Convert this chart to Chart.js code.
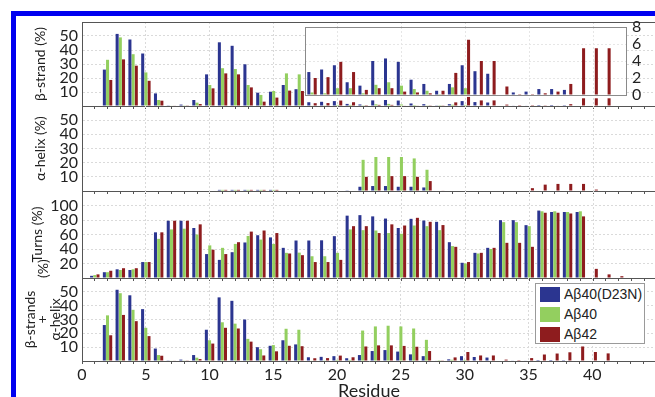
<!DOCTYPE html>
<html>
<head>
<meta charset="utf-8">
<script src="https://cdn.jsdelivr.net/npm/chart.js@4.4.1/dist/chart.umd.min.js"></script>
<style>
  body { margin: 0; width: 655px; height: 397px; overflow: hidden; background: #fff; position: relative; }
  canvas { position: absolute; left: 0; }
  .frame { position: absolute; background: #0000f0; z-index: 5; }
  #legend { position: absolute; left: 535px; top: 283px; width: 108px; height: 59px; border: 1px solid #9a9a9a; background: #fff;
            font-family: "Liberation Sans", Arial, sans-serif; font-size: 14px; color: #222; z-index: 4; }
  #legend div { height: 20px; display: flex; align-items: center; }
  #legend span.sw { display: inline-block; width: 20px; height: 15px; margin: 0 4px 0 4px; }
</style>
</head>
<body>
<div class="frame" style="left:11px;top:11px;width:5px;height:386px"></div>
<div class="frame" style="left:11px;top:11px;width:644px;height:5px"></div>

<canvas id="strand_chart" width="657" height="116" style="top:6px"></canvas>
<canvas id="helix_chart" width="657" height="117" style="top:90px"></canvas>
<canvas id="turns_chart" width="657" height="119" style="top:175px"></canvas>
<canvas id="sum_chart" width="657" height="145" style="top:252px"></canvas>
<canvas id="inset_chart" width="341" height="100" style="left:305px;top:11px"></canvas>
<div id="legend"></div>

<script>
let residues = [1, 2, 3, 4, 5, 6, 7, 8, 9, 10, 11, 12, 13, 14, 15, 16, 17, 18, 19, 20, 21,
    22, 23, 24, 25, 26, 27, 28, 29, 30, 31, 32, 33, 34, 35, 36, 37, 38, 39, 40, 41, 42]
let x_ticks = [0, 5, 10, 15, 20, 25, 30, 35, 40]
let series_names = ['A\u03b240(D23N)', 'A\u03b240', 'A\u03b242']
let series_colors = ['#2b3590', '#93cf5f', '#8e1c1e']

// beta-strand (%)
let strand_d23n = [0, 26, 51.5, 47.5, 37.5, 9, 0.5, 1, 4.3, 22.6, 45.5, 43, 29.8, 9.5, 10.2, 15, 12, 2.7, 3, 3.5,
    1.5, 1.1, 4, 4.3, 3.9, 1.8, 1.3, 0.5, 1.3, 3.5, 2.8, 2.5, 0, 0.3, 0.4, 0.7, 0.7, 0.6, 0, 0]
let strand_ab40 = [0, 33, 49, 37, 24, 4.3, 0.3, 0.5, 2.4, 15, 27, 26.4, 15, 7.9, 10.7, 23.3, 22.6, 0.3, 0.2, 0.8,
    0.8, 0.2, 1.2, 1.5, 1.1, 0.7, 0.5, 0.1, 0.9, 0.8, 0, 0, 0, 0, 0, 0, 0, 0, 0, 0]
let strand_ab42 = [0, 18.6, 33.3, 28.8, 18, 3.8, 0.3, 0.5, 1.4, 12.6, 23.3, 22.6, 13.3, 3.1, 6, 11, 10.7, 2, 2.1, 3.9,
    2.7, 0.6, 0.8, 0.8, 0.4, 0.3, 0.2, 0.5, 2.6, 6.5, 4, 4, 1, 0.1, 0.1, 0.2, 0.4, 1.3, 5.5, 5.5, 5.5, 0]

// alpha-helix (%)
let helix_d23n = [0, 0, 0, 0, 0, 0, 0, 0, 0, 0, 0.8, 0.8, 0.8, 0.8, 0.8, 0, 0, 0, 0, 0,
    0.5, 3, 3.5, 3.5, 3, 3, 2.5, 0, 0, 0, 0, 0, 0, 0, 0, 0, 0, 0, 0, 0]
let helix_ab40 = [0, 0, 0, 0, 0, 0, 0, 0, 0, 0, 0.8, 0.8, 0.8, 0.8, 0.8, 0, 0, 0, 0, 0,
    0, 22, 24, 24, 24, 23, 15, 0, 0, 0, 0, 0, 0, 0, 0, 0, 0, 0, 0, 0]
let helix_ab42 = [0, 0, 0, 0, 0, 0, 0, 0, 0, 0, 0.8, 0.8, 0.8, 0.8, 0.8, 0, 0, 0, 0, 0,
    0, 10, 10.5, 10.5, 10.5, 10, 7, 0.3, 0, 0, 0, 0, 0, 0, 2, 4.5, 5, 5, 5, 1, 0, 0]

// turns (%)
let turns_d23n = [3, 8, 12, 11, 22, 63, 79, 79, 69, 33, 25, 35.6, 49, 59, 56, 41.6, 51.7, 51.7, 52, 57.7,
    86, 86.7, 85, 82, 69, 81.6, 79.3, 77.5, 49.4, 21, 34.7, 41.6, 79.8, 79.8, 72.9, 93, 91, 91, 91, 0]
let turns_ab40 = [4, 8, 11, 12, 22, 54, 67, 68, 60, 45, 41.6, 47, 58, 53, 47, 34.7, 35, 30, 30, 34.7,
    67, 66, 65.5, 62, 61, 72.4, 71.5, 66, 44, 20, 33.8, 40, 77, 77, 71.5, 92, 92, 91, 92, 0]
let turns_ab42 = [5, 10, 13.5, 13.5, 22, 63, 79, 79, 74, 39, 33, 49.4, 64, 65.5, 62, 33.8, 31.5, 22, 22, 25,
    71.5, 71.5, 62, 74, 72.4, 83, 77.5, 73, 43, 22, 34.7, 41.6, 48.5, 48.5, 43, 90, 90, 89, 85, 12.6, 5, 2.5]

// beta-strands + alpha-helix (%)
let sum_d23n = [0, 26, 51.5, 47.5, 37.5, 9, 0.5, 1, 4.3, 22.6, 46, 43.5, 30, 10, 11, 15, 12, 2.7, 3, 3.5,
    2, 4.3, 7.2, 7.9, 6.8, 4.8, 3.5, 0.4, 1.2, 3.5, 2.9, 2.5, 0, 0.3, 0.4, 0.7, 0.7, 0.6, 0, 0]
let sum_ab40 = [0, 33, 49, 37, 24, 4.3, 0.3, 0.5, 2.4, 15, 28, 27, 16, 8.5, 11.5, 23.3, 22.6, 0.3, 0.2, 0.8,
    0.8, 22, 25, 25.5, 25, 23.5, 15.3, 0.1, 0.9, 0.8, 0, 0, 0, 0, 0, 0, 0, 0, 0, 0]
let sum_ab42 = [0, 18.6, 33.3, 28.8, 18, 3.8, 0.3, 0.5, 1.4, 12.6, 24, 23.5, 14, 4, 7, 11, 10.7, 2, 2.1, 3.9,
    2.7, 10.5, 11.3, 11.3, 10.9, 10.3, 7.2, 0.5, 2.6, 6.5, 4, 4, 1, 0.1, 2.1, 4.7, 5.4, 6.3, 10.5, 6.5, 5.5, 0]

Chart.defaults.font.family = 'Lato'
Chart.defaults.color = '#222'

let axis_color = '#555'
let grid_color = '#dadada'

function bars(values, i, from) {
    let points = values.map((v, k) => ({x: residues[k], y: v}))
    if (from) points = points.filter(p => p.x >= from)
    return {
        label: series_names[i],
        data: points,
        backgroundColor: series_colors[i],
        borderWidth: 0,
        categoryPercentage: 0.75,
        barPercentage: 0.95,
        xAxisID: 'x',
        yAxisID: 'y'
    }
}

function panel_chart(id, sets, y_max, y_step, title, title_font, title_pad, bottom) {
    let x_axis = {
        type: 'linear', min: 0, max: 45, offset: false,
        ticks: {
            stepSize: 1, autoSkip: false, maxRotation: 0, display: bottom, padding: 1,
            font: {size: 16},
            callback: v => x_ticks.includes(v) ? String(v) : ''
        },
        grid: {
            offset: false,
            color: c => c.tick && c.tick.value % 5 === 0 && c.tick.value > 0 ? grid_color : 'rgba(0,0,0,0)',
            tickColor: axis_color, tickLength: 3, drawTicks: true
        },
        border: {color: axis_color, dash: [2, 2]},
        afterFit: s => { s.height = bottom ? 36 : 16 }
    }
    if (bottom) {
        x_axis.title = {display: true, text: 'Residue', font: {size: 18, lineHeight: 1}, padding: {top: 0, bottom: -3}, color: '#222'}
    }
    let scales = {
        x: x_axis,
        y: {
            min: 0, max: y_max,
            ticks: {stepSize: y_step, autoSkip: false, padding: 4, font: {size: 16},
                callback: v => (v === 0 || v === y_max) ? '' : String(v)},
            grid: {
                color: c => c.tick && (c.tick.value === 0 || c.tick.value === y_max) ? 'rgba(0,0,0,0)' : grid_color,
                drawTicks: false
            },
            border: {color: axis_color, dash: [2, 2]},
            title: {display: true, text: title, font: title_font, color: '#222', padding: {top: title_pad, bottom: 0}},
            afterFit: s => { s.width = 82 }
        }
    }
    if (id === 'strand_chart') {
        scales.xt = {
            type: 'linear', position: 'top', min: 0, max: 45, offset: false,
            ticks: {display: false}, grid: {display: false, drawTicks: false},
            border: {color: axis_color}
        }
    }
    if (bottom) {
        // the "(%)" of the stacked bottom title sits at the top of the panel
        scales.y2 = {
            position: 'left', min: 0, max: y_max, reverse: true,
            ticks: {display: false}, grid: {display: false, drawTicks: false},
            border: {display: false},
            title: {display: true, text: '(%)', align: 'end', color: '#222',
                font: {size: 14, lineHeight: 1.2}, padding: {top: 35, bottom: 0}},
            afterFit: s => { s.width = 0 }
        }
    }
    return new Chart(document.querySelector('#' + id), {
        type: 'bar',
        data: {datasets: sets},
        options: {
            responsive: false, animation: false,
            layout: {padding: {top: bottom ? 26 : 16, bottom: 0, left: 0, right: 0}},
            plugins: {legend: {display: false}, tooltip: {enabled: false}},
            scales: scales
        }
    })
}

let one_line = {size: 14, lineHeight: 1.2}
let strand_chart = panel_chart('strand_chart',
    [bars(strand_d23n, 0), bars(strand_ab40, 1), bars(strand_ab42, 2)],
    60, 10, '\u03b2-strand (%)', one_line, 32, false)
let helix_chart = panel_chart('helix_chart',
    [bars(helix_d23n, 0), bars(helix_ab40, 1), bars(helix_ab42, 2)],
    60, 10, '\u03b1-helix (%)', one_line, 32, false)
let turns_chart = panel_chart('turns_chart',
    [bars(turns_d23n, 0), bars(turns_ab40, 1), bars(turns_ab42, 2)],
    120, 20, 'Turns (%)', one_line, 29, false)
let sum_chart = panel_chart('sum_chart',
    [bars(sum_d23n, 0), bars(sum_ab40, 1), bars(sum_ab42, 2)],
    60, 10, ['\u03b2-strands', '+', '\u03b1-helix'],
    {size: 14, lineHeight: 0.9}, 24, true)

// inset: zoom of the beta-strand panel, residues 18 to 41
let inset_white = {
    id: 'inset_white',
    beforeDraw(chart) {
        let a = chart.chartArea
        chart.ctx.save()
        chart.ctx.fillStyle = '#fff'
        chart.ctx.fillRect(a.left, a.top, a.right - a.left, a.bottom - a.top)
        chart.ctx.restore()
    }
}
let inset_chart = new Chart(document.querySelector('#inset_chart'), {
    type: 'bar',
    data: {datasets: [bars(strand_d23n, 0, 18), bars(strand_ab40, 1, 18), bars(strand_ab42, 2, 18)]},
    options: {
        responsive: false, animation: false,
        layout: {padding: {top: 16, bottom: 16, left: 0, right: 0}},
        plugins: {legend: {display: false}, tooltip: {enabled: false}},
        scales: {
            x: {
                type: 'linear', min: 17.45, max: 42.57, offset: false,
                ticks: {display: false, stepSize: 1, autoSkip: false},
                grid: {offset: false, color: c => c.tick && c.tick.value % 5 === 0 ? '#e6e6e6' : 'rgba(0,0,0,0)', drawTicks: false},
                border: {color: '#8a8a8a', dash: [2, 2]}
            },
            xt: {
                type: 'linear', position: 'top', min: 17.45, max: 42.57, offset: false,
                ticks: {display: false}, grid: {display: false, drawTicks: false},
                border: {color: '#8a8a8a'}
            },
            y: {
                position: 'right', min: 0, max: 8,
                ticks: {stepSize: 2, autoSkip: false, padding: 6, font: {size: 16}},
                grid: {color: c => c.tick && c.tick.value > 0 && c.tick.value < 8 ? '#e6e6e6' : 'rgba(0,0,0,0)', drawTicks: false},
                border: {color: '#8a8a8a', dash: [2, 2]},
                afterFit: s => { s.width = 20 }
            },
            yl: {
                position: 'left', min: 0, max: 8,
                ticks: {display: false}, grid: {display: false, drawTicks: false},
                border: {color: '#8a8a8a'},
                afterFit: s => { s.width = 0 }
            }
        }
    },
    plugins: [inset_white]
})

// legend built from the bottom panel's datasets
let legend_el = document.querySelector('#legend')
sum_chart.data.datasets.forEach(d => {
    let row = document.createElement('div')
    let sw = document.createElement('span')
    sw.className = 'sw'
    sw.style.background = d.backgroundColor
    row.appendChild(sw)
    row.appendChild(document.createTextNode(d.label))
    legend_el.appendChild(row)
})
</script>
</body>
</html>
